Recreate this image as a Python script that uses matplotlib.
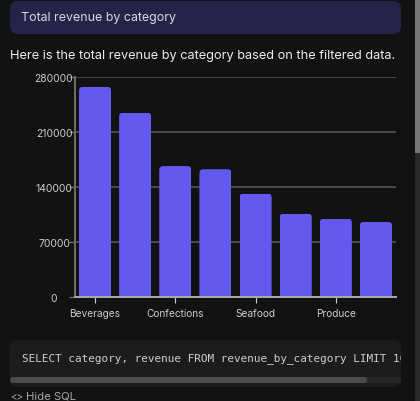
import matplotlib
matplotlib.use("Agg")
import matplotlib.pyplot as plt
from matplotlib.patches import FancyBboxPatch, Rectangle
from matplotlib.transforms import IdentityTransform

W, H = 420, 402

categories = ["Beverages", "Dairy Products", "Confections", "Meat/Poultry",
              "Seafood", "Condiments", "Produce", "Grains/Cereals"]
revenue = [268000, 235000, 167000, 163000, 132000, 106500, 100000, 96000]
y_ticks = [0, 70000, 140000, 210000, 280000]
shown_labels = ["Beverages", "Confections", "Seafood", "Produce"]

BG = "#121212"
BAR = "#6459ee"

plt.rcParams['font.family'] = ['Inter', 'DejaVu Sans']

fig = plt.figure(figsize=(W / 100, H / 100), dpi=100, facecolor=BG)

# page layer in pixel coordinates, y pointing down
page = fig.add_axes([0, 0, 1, 1])
page.set_xlim(0, W)
page.set_ylim(H, 0)
page.axis("off")


def box(x0, y0, x1, y1, color, r):
    page.add_patch(FancyBboxPatch((x0 + r, y0 + r), x1 - x0 - 2 * r, y1 - y0 - 2 * r,
                                  boxstyle=f"round,pad={r},rounding_size={r}",
                                  fc=color, ec="none"))


box(10, 2, 401, 35, "#24234a", 8)
page.text(21, 18.5, "Total revenue by category", color="#d8d8e0", fontsize=8.95, va="center")
page.text(10.5, 55.5, "Here is the total revenue by category based on the filtered data.",
          color="#ececec", fontsize=9.2, va="center")

# scrollbar on the right edge
page.add_patch(Rectangle((415, 0), 5, H, fc="#2a2a2a", ec="none"))
page.add_patch(Rectangle((415, 0), 5, 154, fc="#767676", ec="none"))

# sql box
box(10, 341, 401, 388, "#1c1c1c", 7)
sql = page.text(22.5, 358.5, "SELECT category, revenue FROM revenue_by_category LIMIT 10",
                color="#cfcfcf", fontsize=7.88, family=["DejaVu Sans Mono"], va="center",
                clip_on=True)
sql.set_clip_path(Rectangle((10, 341), 391, 47, transform=page.transData))
box(10, 378, 401, 384, "#262626", 3)
box(10, 378, 367, 384, "#4b4b4b", 3)
page.text(10.5, 397, "<>", color="#a8a8a8", fontsize=7, va="center")
page.text(25.5, 397, "Hide SQL", color="#a8a8a8", fontsize=8.1, va="center")

# chart
ax = fig.add_axes([75 / W, 1 - 298.3 / H, 321 / W, 220 / H])
ax.set_facecolor("none")
ax.set_xlim(-0.5, len(categories) - 0.5)
ax.set_ylim(0, 280000)
ax.set_axisbelow(True)
ax.yaxis.grid(True, color="#5a5a5a", lw=1.1)
ax.xaxis.grid(False)

bars = ax.bar(categories, revenue, width=0.8, color=BAR, edgecolor="none", zorder=2)
fig.canvas.draw()
for b in bars:
    (x0, y0), (x1, y1) = ax.transData.transform([(b.get_x(), 0), (b.get_x() + b.get_width(), b.get_height())])
    r = 4
    clip = FancyBboxPatch((x0 + r, y0 - 20), x1 - x0 - 2 * r, y1 - y0 + 20 - r,
                          boxstyle=f"round,pad={r},rounding_size={r}",
                          transform=IdentityTransform())
    b.set_clip_path(clip)

for s in ["top", "right"]:
    ax.spines[s].set_visible(False)
ax.spines["left"].set_color("#6e6e6e")
ax.spines["left"].set_linewidth(1.4)
ax.spines["bottom"].set_color("#aaaaaa")
ax.spines["bottom"].set_linewidth(1.4)
ax.spines["bottom"].set_zorder(3)

ax.set_yticks(y_ticks)
ax.set_yticklabels([str(v) for v in y_ticks])
ax.tick_params(axis="y", length=4.3, width=1, color="#6e6e6e", labelcolor="#cccccc",
               labelsize=7.5, pad=10.8)
for t in ax.get_yticklabels():
    t.set_ha("center")
ax.set_xticks([categories.index(c) for c in shown_labels])
ax.set_xticklabels(shown_labels)
ax.tick_params(axis="x", length=4, width=0.8, color="#cccccc", labelcolor="#cccccc",
               labelsize=7.3, pad=3.5)

fig.savefig("out.png", dpi=100, facecolor=BG)
plt.close()
